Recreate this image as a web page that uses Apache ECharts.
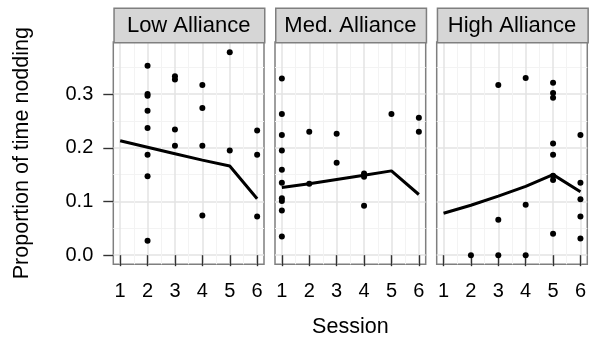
<!DOCTYPE html>
<html><head><meta charset="utf-8">
<script src="https://cdn.jsdelivr.net/npm/echarts@6/dist/echarts.min.js"></script>
<style>html,body{margin:0;padding:0;background:#fff}#c{width:589px;height:339px}</style>
</head><body><div id="c"></div>
<script>
// ---- data ----
const panelNames = ['Low Alliance', 'Med. Alliance', 'High Alliance'];
const sessionTicks = [1, 2, 3, 4, 5, 6];
const sessionMinor = [1.5, 2.5, 3.5, 4.5, 5.5];
const yTicks = [0, 0.1, 0.2, 0.3];
const yTickLabels = ['0.0', '0.1', '0.2', '0.3'];
const yMinor = [0.05, 0.15, 0.25, 0.35];

const lowSessions = [2, 2, 2, 2, 2, 2, 2, 2, 3, 3, 3, 3, 4, 4, 4, 4, 5, 5, 6, 6, 6];
const lowValues = [0.353, 0.300, 0.297, 0.269, 0.237, 0.187, 0.147, 0.027, 0.333, 0.327, 0.234, 0.204, 0.317, 0.274, 0.204, 0.074, 0.378, 0.195, 0.232, 0.187, 0.072];
const lowFit = [0.213, 0.201, 0.189, 0.177, 0.166, 0.105];

const medSessions = [1, 1, 1, 1, 1, 1, 1, 1, 1, 1, 2, 2, 3, 3, 4, 4, 4, 5, 6, 6];
const medValues = [0.329, 0.263, 0.224, 0.195, 0.159, 0.135, 0.106, 0.101, 0.083, 0.035, 0.230, 0.133, 0.226, 0.172, 0.152, 0.146, 0.092, 0.263, 0.256, 0.230];
const medFit = [0.126, 0.133, 0.141, 0.149, 0.157, 0.113];

const highSessions = [2, 3, 3, 3, 4, 4, 4, 5, 5, 5, 5, 5, 5, 5, 5, 6, 6, 6, 6, 6];
const highValues = [0.000, 0.317, 0.066, 0.000, 0.330, 0.094, 0.000, 0.321, 0.302, 0.293, 0.208, 0.187, 0.148, 0.140, 0.040, 0.224, 0.135, 0.104, 0.072, 0.031];
const highFit = [0.078, 0.093, 0.110, 0.128, 0.150, 0.118];

// ---- layout ----
const FONT = 'Liberation Sans';
const PL = [113.3, 275, 436.7], PW = 150.7, PT = 42, PH = 222.3;
const STRIP_TOP = 7.5, STRIP_H = 34.5;
const XMIN = 0.75, XMAX = 6.25, YMIN = -0.017, YMAX = 0.397;
const MAJOR = '#e3e3e3', MINOR = '#f3f3f3';
const INK = '#000';

const panels = [
  [lowSessions, lowValues, lowFit],
  [medSessions, medValues, medFit],
  [highSessions, highValues, highFit]
];

const grid = [], xAxis = [], yAxis = [], series = [], graphic = [];
panels.forEach((p, i) => {
  grid.push({left: PL[i], top: PT, width: PW, height: PH, show: true,
    backgroundColor: '#fff', borderColor: '#7f7f7f', borderWidth: 1.5, containLabel: false});
  // major x
  xAxis.push({type: 'value', gridIndex: i, min: XMIN, max: XMAX,
    axisLine: {show: false},
    axisTick: {show: true, customValues: sessionTicks, length: 11, lineStyle: {color: '#333', width: 1.4}},
    axisLabel: {show: true, customValues: sessionTicks, margin: 17, fontSize: 20, fontFamily: FONT, color: INK},
    splitLine: {show: true, lineStyle: {color: MAJOR, width: 1.5}}});
  // minor x
  xAxis.push({type: 'value', gridIndex: i, min: XMIN, max: XMAX,
    axisLine: {show: false},
    axisTick: {show: false, customValues: sessionMinor},
    axisLabel: {show: false},
    splitLine: {show: true, lineStyle: {color: MINOR, width: 1}}});
  // major y
  yAxis.push({type: 'value', gridIndex: i, min: YMIN, max: YMAX,
    axisLine: {show: false},
    axisTick: {show: i === 0, customValues: yTicks, length: 10, lineStyle: {color: '#333', width: 1.4}},
    axisLabel: {show: i === 0, customValues: yTicks, margin: 20, fontSize: 20, fontFamily: FONT, color: INK,
      formatter: v => yTickLabels[yTicks.findIndex(t => Math.abs(t - v) < 1e-9)] ?? ''},
    splitLine: {show: true, lineStyle: {color: MAJOR, width: 1.5}}});
  // minor y
  yAxis.push({type: 'value', gridIndex: i, min: YMIN, max: YMAX,
    axisLine: {show: false},
    axisTick: {show: false, customValues: yMinor},
    axisLabel: {show: false},
    splitLine: {show: true, lineStyle: {color: MINOR, width: 1}}});

  series.push({type: 'line', xAxisIndex: 2 * i, yAxisIndex: 2 * i,
    data: sessionTicks.map((s, k) => [s, p[2][k]]),
    showSymbol: false, symbol: 'none', lineStyle: {color: '#000', width: 3}, z: 3, silent: true, animation: false});
  series.push({type: 'scatter', xAxisIndex: 2 * i, yAxisIndex: 2 * i,
    data: p[0].map((s, k) => [s, p[1][k]]),
    symbol: 'circle', symbolSize: 6, itemStyle: {color: '#000', opacity: 1}, z: 4, silent: true, animation: false});

  graphic.push({type: 'rect', left: PL[i], top: STRIP_TOP, z: 10,
    shape: {width: PW, height: STRIP_H},
    style: {fill: '#d6d6d6', stroke: '#7f7f7f', lineWidth: 1.5}});
  graphic.push({type: 'text', x: PL[i] + PW / 2, y: STRIP_TOP + STRIP_H / 2 + 1, z: 11,
    style: {text: panelNames[i], font: '22px ' + FONT, fill: INK, textAlign: 'center', textVerticalAlign: 'middle'}});
});

graphic.push({type: 'text', x: 22, y: PT + PH / 2, rotation: Math.PI / 2, z: 11,
  style: {text: 'Proportion of time nodding', font: '21.5px ' + FONT, fill: INK, textAlign: 'center', textVerticalAlign: 'middle'}});
graphic.push({type: 'text', x: (PL[0] + PL[2] + PW) / 2, y: 327, z: 11,
  style: {text: 'Session', font: '21.5px ' + FONT, fill: INK, textAlign: 'center', textVerticalAlign: 'middle'}});

const chart = echarts.init(document.getElementById('c'), null, {renderer: 'canvas'});
chart.setOption({animation: false, backgroundColor: '#fff', grid, xAxis, yAxis, series, graphic});
</script></body></html>
